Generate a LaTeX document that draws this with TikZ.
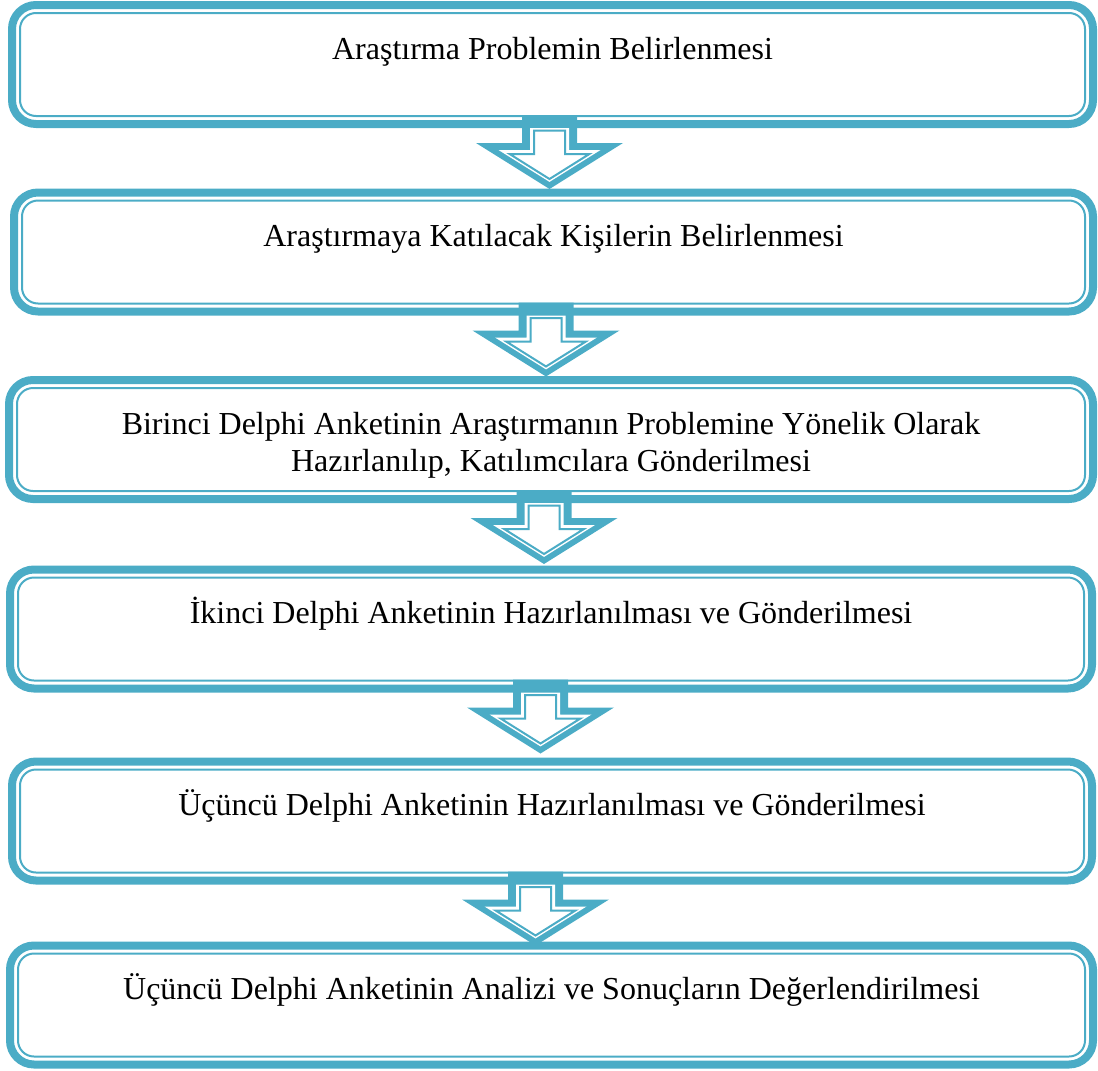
\documentclass[tikz,border=0pt]{standalone}
\usepackage{fontspec}
\setmainfont{Liberation Serif}
\usetikzlibrary{calc}
\definecolor{aqua}{HTML}{4BACC6}

\begin{document}
\begin{tikzpicture}[x=1pt,y=-1pt]
\fontsize{32}{37}\selectfont
\tikzstyle{stepbox}=[draw=aqua, line width=8pt, rounded corners=24pt, inner sep=0pt, outer sep=0pt, text height=54pt, text depth=65pt, align=center]
\tikzstyle{innerline}=[draw=aqua, line width=2pt, rounded corners=16pt]
\useasboundingbox (0,0) rectangle (1098,1071);
\node[stepbox, minimum width=1081pt] (b1) at (552.5,64.5) {Araştırma Problemin Belirlenmesi};
\node[stepbox, minimum width=1079pt] (b2) at (553.5,252) {Araştırmaya Katılacak Kişilerin Belirlenmesi};
\node[stepbox, minimum width=1084pt, text height=91pt, text depth=28pt] (b3) at (551,439.5) {Birinci Delphi Anketinin Araştırmanın Problemine Yönelik Olarak\\Hazırlanılıp, Katılımcılara Gönderilmesi};
\node[stepbox, minimum width=1082pt] (b4) at (551,629) {İkinci Delphi Anketinin Hazırlanılması ve Gönderilmesi};
\node[stepbox, minimum width=1080pt] (b5) at (552,821) {Üçüncü Delphi Anketinin Hazırlanılması ve Gönderilmesi};
\node[stepbox, minimum width=1083pt] (b6) at (551.5,1005) {Üçüncü Delphi Anketinin Analizi ve Sonuçların Değerlendirilmesi};
% thin inner border
\foreach \i in {1,...,6}
    \draw[innerline] ($(b\i.south west)+(8pt,8pt)$) rectangle ($(b\i.north east)-(8pt,8pt)$);
% block arrows
\foreach \b/\dx in {1/-3,2/-7.5,3/-7,4/-10.5,5/-16.5}
   {
    \begin{scope}[shift={($(b\b.south)+(\dx,-9)$)}]
    \fill[aqua] (-27.5,0) -- (27.5,0) -- (27.5,28) -- (73.5,28) -- (0,74) -- (-73.5,28) -- (-27.5,28) -- cycle;
    \fill[white] (-19.5,13) -- (19.5,13) -- (19.5,35) -- (51,35) -- (0,66.9) -- (-51,35) -- (-19.5,35) -- cycle;
    \draw[aqua, line width=2pt] (-15.5,15.5) -- (15.5,15.5) -- (15.5,39) -- (39.9,39) -- (0,64) -- (-39.9,39) -- (-15.5,39) -- cycle;
    \end{scope}
   }
\end{tikzpicture}
\end{document}
